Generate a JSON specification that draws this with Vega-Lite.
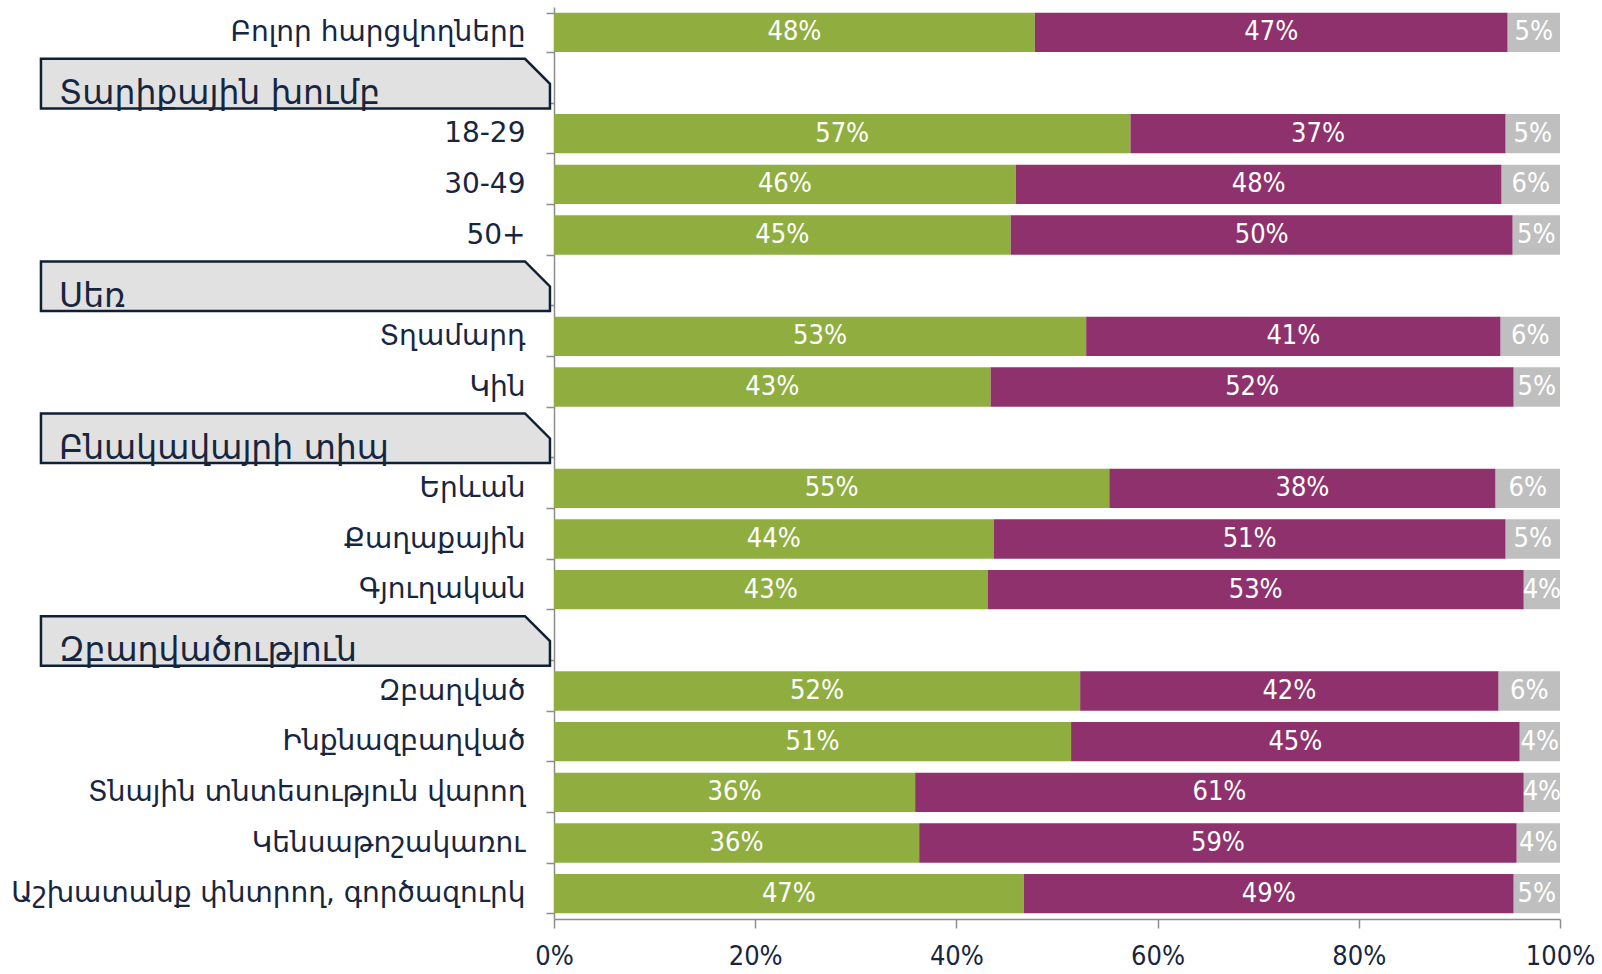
{
  "$schema": "https://vega.github.io/schema/vega-lite/v6.json",
  "width": 1006,
  "height": 912,
  "autosize": {"type": "none"},
  "padding": {"left": 554, "top": 7, "right": 42, "bottom": 55},
  "background": "white",
  "config": {"view": {"stroke": null}},
  "datasets": {
    "bars": [
      {"label": "Բոլոր հարցվողները", "answer": "Այո", "value": 0.478},
      {"label": "Բոլոր հարցվողները", "answer": "Ոչ", "value": 0.470},
      {"label": "Բոլոր հարցվողները", "answer": "Չգիտեմ", "value": 0.052},
      {"label": "18-29", "answer": "Այո", "value": 0.573},
      {"label": "18-29", "answer": "Ոչ", "value": 0.373},
      {"label": "18-29", "answer": "Չգիտեմ", "value": 0.054},
      {"label": "30-49", "answer": "Այո", "value": 0.459},
      {"label": "30-49", "answer": "Ոչ", "value": 0.483},
      {"label": "30-49", "answer": "Չգիտեմ", "value": 0.058},
      {"label": "50+", "answer": "Այո", "value": 0.454},
      {"label": "50+", "answer": "Ոչ", "value": 0.499},
      {"label": "50+", "answer": "Չգիտեմ", "value": 0.047},
      {"label": "Տղամարդ", "answer": "Այո", "value": 0.529},
      {"label": "Տղամարդ", "answer": "Ոչ", "value": 0.412},
      {"label": "Տղամարդ", "answer": "Չգիտեմ", "value": 0.059},
      {"label": "Կին", "answer": "Այո", "value": 0.434},
      {"label": "Կին", "answer": "Ոչ", "value": 0.520},
      {"label": "Կին", "answer": "Չգիտեմ", "value": 0.046},
      {"label": "Երևան", "answer": "Այո", "value": 0.552},
      {"label": "Երևան", "answer": "Ոչ", "value": 0.384},
      {"label": "Երևան", "answer": "Չգիտեմ", "value": 0.064},
      {"label": "Քաղաքային", "answer": "Այո", "value": 0.437},
      {"label": "Քաղաքային", "answer": "Ոչ", "value": 0.509},
      {"label": "Քաղաքային", "answer": "Չգիտեմ", "value": 0.054},
      {"label": "Գյուղական", "answer": "Այո", "value": 0.431},
      {"label": "Գյուղական", "answer": "Ոչ", "value": 0.533},
      {"label": "Գյուղական", "answer": "Չգիտեմ", "value": 0.036},
      {"label": "Զբաղված", "answer": "Այո", "value": 0.523},
      {"label": "Զբաղված", "answer": "Ոչ", "value": 0.416},
      {"label": "Զբաղված", "answer": "Չգիտեմ", "value": 0.061},
      {"label": "Ինքնազբաղված", "answer": "Այո", "value": 0.514},
      {"label": "Ինքնազբաղված", "answer": "Ոչ", "value": 0.446},
      {"label": "Ինքնազբաղված", "answer": "Չգիտեմ", "value": 0.040},
      {"label": "Տնային տնտեսություն վարող", "answer": "Այո", "value": 0.359},
      {"label": "Տնային տնտեսություն վարող", "answer": "Ոչ", "value": 0.605},
      {"label": "Տնային տնտեսություն վարող", "answer": "Չգիտեմ", "value": 0.036},
      {"label": "Կենսաթոշակառու", "answer": "Այո", "value": 0.363},
      {"label": "Կենսաթոշակառու", "answer": "Ոչ", "value": 0.594},
      {"label": "Կենսաթոշակառու", "answer": "Չգիտեմ", "value": 0.043},
      {"label": "Աշխատանք փնտրող, գործազուրկ", "answer": "Այո", "value": 0.467},
      {"label": "Աշխատանք փնտրող, գործազուրկ", "answer": "Ոչ", "value": 0.487},
      {"label": "Աշխատանք փնտրող, գործազուրկ", "answer": "Չգիտեմ", "value": 0.046}
    ],
    "headers": [
      {"label": "Տարիքային խումբ"},
      {"label": "Սեռ"},
      {"label": "Բնակավայրի տիպ"},
      {"label": "Զբաղվածություն"}
    ]
  },
  "layer": [
    {
      "data": {"name": "bars"},
      "mark": {"type": "bar"},
      "encoding": {
        "y": {
          "field": "label",
          "type": "nominal",
          "sort": null,
          "scale": {
            "domain": ["Բոլոր հարցվողները", "Տարիքային խումբ", "18-29", "30-49", "50+", "Սեռ", "Տղամարդ", "Կին", "Բնակավայրի տիպ", "Երևան", "Քաղաքային", "Գյուղական", "Զբաղվածություն", "Զբաղված", "Ինքնազբաղված", "Տնային տնտեսություն վարող", "Կենսաթոշակառու", "Աշխատանք փնտրող, գործազուրկ"],
            "paddingInner": 0.225,
            "paddingOuter": 0.1125
          },
          "axis": {
            "title": null,
            "tickBand": "extent",
            "tickSize": 8,
            "tickColor": "#8c8c8c",
            "tickWidth": 1.5,
            "domainColor": "#8c8c8c",
            "domainWidth": 1.5,
            "labelFont": "DejaVu Sans",
            "labelFontSize": 28,
            "labelColor": "#17263f",
            "labelPadding": 21,
            "labelLimit": 700,
            "labelExpr": "indexof(['Տարիքային խումբ','Սեռ','Բնակավայրի տիպ','Զբաղվածություն'], datum.value) >= 0 ? '' : datum.value"
          }
        },
        "x": {
          "field": "value",
          "type": "quantitative",
          "stack": "zero",
          "scale": {"domain": [0, 1]},
          "axis": {
            "title": null,
            "format": ".0%",
            "values": [0, 0.2, 0.4, 0.6, 0.8, 1],
            "grid": false,
            "tickSize": 9,
            "tickColor": "#8c8c8c",
            "tickWidth": 1.5,
            "domainColor": "#8c8c8c",
            "domainWidth": 1.5,
            "labelFont": "DejaVu Sans Condensed, Liberation Sans Narrow, sans-serif",
            "labelFontSize": 27,
            "labelColor": "#17263f",
            "labelPadding": 15,
            "labelFlush": false
          }
        },
        "color": {
          "field": "answer",
          "type": "nominal",
          "scale": {"domain": ["Այո", "Ոչ", "Չգիտեմ"], "range": ["#8fae3f", "#8e316c", "#bfbfbf"]},
          "legend": null
        },
        "order": {"field": "answer", "sort": "ascending"}
      }
    },
    {
      "data": {"name": "bars"},
      "mark": {"type": "text", "font": "DejaVu Sans Condensed, Liberation Sans Narrow, sans-serif", "fontSize": 27, "color": "white", "baseline": "middle", "align": "center"},
      "encoding": {
        "y": {"field": "label", "type": "nominal", "sort": null},
        "x": {"field": "value", "type": "quantitative", "stack": "zero", "bandPosition": 0.5},
        "detail": {"field": "answer"},
        "order": {"field": "answer", "sort": "ascending"},
        "text": {"field": "value", "type": "quantitative", "format": ".0%"}
      }
    },
    {
      "data": {"name": "headers"},
      "mark": {"type": "point", "shape": "M-1,-0.095L0.902,-0.095L1,0.003L1,0.1L-1,0.1Z", "size": 259081, "filled": true, "fill": "#e1e1e1", "stroke": "#0f1f35", "strokeWidth": 2.5, "opacity": 1},
      "encoding": {
        "y": {"field": "label", "type": "nominal", "sort": null},
        "x": {"datum": -0.257, "type": "quantitative"}
      }
    },
    {
      "data": {"name": "headers"},
      "mark": {"type": "text", "font": "DejaVu Sans", "fontSize": 33, "color": "#17263f", "align": "left", "baseline": "alphabetic", "dy": 21},
      "encoding": {
        "y": {"field": "label", "type": "nominal", "sort": null},
        "x": {"datum": -0.492, "type": "quantitative"},
        "text": {"field": "label"}
      }
    }
  ]
}
